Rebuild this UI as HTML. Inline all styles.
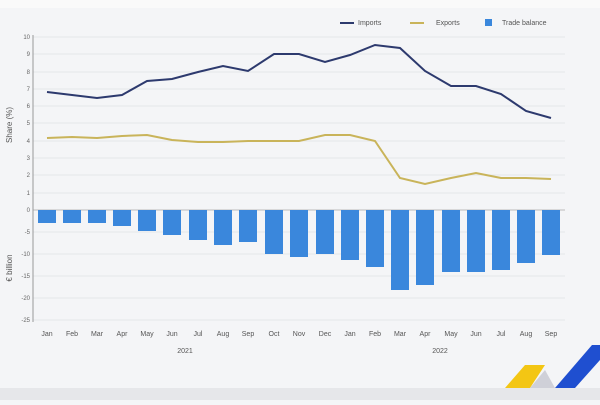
<!DOCTYPE html><html><head><meta charset="utf-8"><style>body{margin:0;background:#f4f5f7}svg{font-family:"Liberation Sans",sans-serif}</style></head><body>
<svg width="600" height="400" viewBox="0 0 600 400">
<rect width="600" height="400" fill="#f4f5f7"/>
<rect x="0" y="0" width="600" height="8" fill="#fafafa"/>
<rect x="0" y="388" width="600" height="12" fill="#e6e7ea"/>
<g stroke="#e4e6ea" stroke-width="1">
<line x1="33" x2="565" y1="37" y2="37"/><line x1="33" x2="565" y1="54" y2="54"/><line x1="33" x2="565" y1="72" y2="72"/><line x1="33" x2="565" y1="89" y2="89"/><line x1="33" x2="565" y1="106" y2="106"/><line x1="33" x2="565" y1="123" y2="123"/><line x1="33" x2="565" y1="141" y2="141"/><line x1="33" x2="565" y1="158" y2="158"/><line x1="33" x2="565" y1="175" y2="175"/><line x1="33" x2="565" y1="193" y2="193"/><line x1="33" x2="565" y1="232" y2="232"/><line x1="33" x2="565" y1="254" y2="254"/><line x1="33" x2="565" y1="276" y2="276"/><line x1="33" x2="565" y1="298" y2="298"/><line x1="33" x2="565" y1="320" y2="320"/>
</g>
<line x1="33" x2="565" y1="210" y2="210" stroke="#bbb"/>
<line x1="33" x2="33" y1="35" y2="322" stroke="#999"/>
<g fill="#3a87dc" id="bars"></g>
<polyline fill="none" stroke="#c9b45a" stroke-width="2" points="47,138 72,137 97,138 122,136 147,135 172,140 198,142 223,142 248,141 274,141 299,141 325,135 350,135 375,141 400,178 425,184 451,178 476,173 501,178 526,178 551,179"/>
<polyline fill="none" stroke="#2d3a6e" stroke-width="2" points="47,92 72,95 97,98 122,95 147,81 172,79 198,72 223,66 248,71 274,54 299,54 325,62 350,55 375,45 400,48 425,71 451,86 476,86 501,94 526,111 551,118"/>
<g font-size="6" fill="#666" text-anchor="end">
<text x="30" y="39">10</text><text x="30" y="56">9</text><text x="30" y="74">8</text><text x="30" y="91">7</text><text x="30" y="108">6</text><text x="30" y="125">5</text><text x="30" y="143">4</text><text x="30" y="160">3</text><text x="30" y="177">2</text><text x="30" y="195">1</text><text x="30" y="212">0</text><text x="30" y="234">-5</text><text x="30" y="256">-10</text><text x="30" y="278">-15</text><text x="30" y="300">-20</text><text x="30" y="322">-25</text>
</g>
<text transform="translate(12,125) rotate(-90)" font-size="8" fill="#555" text-anchor="middle">Share (%)</text>
<text transform="translate(12,268) rotate(-90)" font-size="8" fill="#555" text-anchor="middle">€ billion</text>
<g font-size="7" fill="#555" text-anchor="middle" id="xl"></g>
<text x="185" y="353" font-size="7" fill="#555" text-anchor="middle">2021</text>
<text x="440" y="353" font-size="7" fill="#555" text-anchor="middle">2022</text>
<g font-size="7" fill="#555">
<line x1="340" x2="354" y1="23" y2="23" stroke="#2d3a6e" stroke-width="2"/><text x="358" y="25">Imports</text>
<line x1="410" x2="424" y1="23" y2="23" stroke="#c9b45a" stroke-width="2"/><text x="436" y="25">Exports</text>
<rect x="485" y="19" width="7" height="7" fill="#3a87dc"/><text x="502" y="25">Trade balance</text>
</g>
<polygon points="505,388 525,365 545,365 530,388" fill="#f3c614"/>
<polygon points="530,388 545,370 555,388" fill="#cfd0d8"/>
<polygon points="555,388 592,345 600,345 600,360 575,388" fill="#1f4fd0"/>
<script>
var xs=[47,72,97,122,147,172,198,223,248,274,299,325,350,375,400,425,451,476,501,526,551];
var b=[223,223,223,226,231,235,240,245,242,254,257,254,260,267,290,285,272,272,270,263,255];
var m=["Jan","Feb","Mar","Apr","May","Jun","Jul","Aug","Sep","Oct","Nov","Dec","Jan","Feb","Mar","Apr","May","Jun","Jul","Aug","Sep"];
var g=document.getElementById("bars"),l=document.getElementById("xl"),ns="http://www.w3.org/2000/svg";
xs.forEach(function(x,i){var r=document.createElementNS(ns,"rect");r.setAttribute("x",x-9);r.setAttribute("y",210);r.setAttribute("width",18);r.setAttribute("height",b[i]-210);g.appendChild(r);
var t=document.createElementNS(ns,"text");t.setAttribute("x",x);t.setAttribute("y",336);t.textContent=m[i];l.appendChild(t);});
</script>
</svg></body></html>
